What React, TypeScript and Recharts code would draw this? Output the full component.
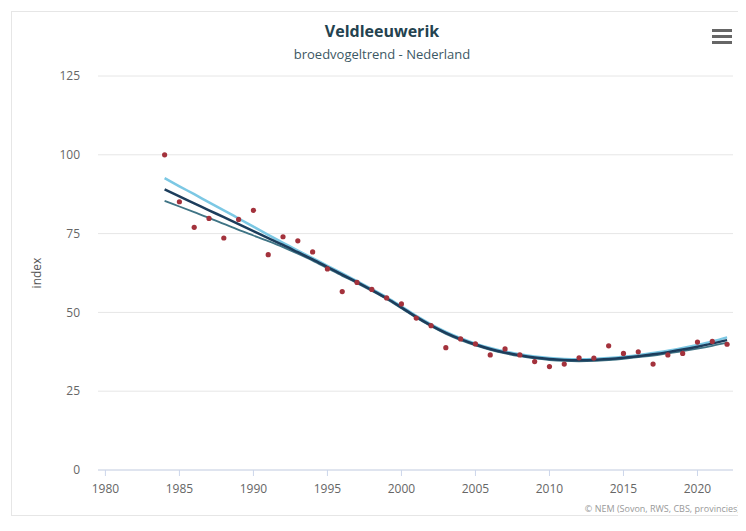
import React from 'react';
import {
  ComposedChart,
  Line,
  Scatter,
  XAxis,
  YAxis,
  CartesianGrid,
  Label,
} from 'recharts';

// Broedvogeltrend veldleeuwerik, index 1984 = 100
const years = [
  1984, 1985, 1986, 1987, 1988, 1989, 1990, 1991, 1992, 1993, 1994, 1995, 1996,
  1997, 1998, 1999, 2000, 2001, 2002, 2003, 2004, 2005, 2006, 2007, 2008, 2009,
  2010, 2011, 2012, 2013, 2014, 2015, 2016, 2017, 2018, 2019, 2020, 2021, 2022,
];

const indexValues = [
  100, 85.1, 77.0, 79.8, 73.6, 79.5, 82.4, 68.3, 74.0, 72.7, 69.2, 63.8, 56.6,
  59.5, 57.3, 54.6, 52.7, 48.2, 45.8, 38.8, 41.6, 40.0, 36.5, 38.4, 36.5, 34.4,
  32.8, 33.6, 35.6, 35.5, 39.4, 37.0, 37.5, 33.6, 36.5, 37.0, 40.6, 40.8, 39.9,
];

const trend = [
  89.0, 86.8, 84.6, 82.4, 80.2, 78.0, 75.8, 73.6, 71.4, 69.1, 66.8, 64.4, 62.0,
  59.6, 57.1, 54.5, 51.6, 48.6, 45.9, 43.5, 41.5, 39.8, 38.4, 37.3, 36.4, 35.7,
  35.2, 34.9, 34.8, 34.9, 35.2, 35.6, 36.1, 36.7, 37.4, 38.2, 39.1, 40.1, 41.2,
];

const trendUpper = [
  92.6, 90.0, 87.5, 84.9, 82.4, 79.8, 77.2, 74.6, 72.1, 69.6, 67.2, 64.8, 62.4,
  59.9, 57.4, 54.8, 51.9, 48.9, 46.2, 43.8, 41.8, 40.1, 38.7, 37.6, 36.7, 36.0,
  35.5, 35.2, 35.1, 35.2, 35.5, 35.9, 36.4, 37.1, 37.8, 38.7, 39.7, 40.8, 42.1,
];

const trendLower = [
  85.4, 83.6, 81.8, 80.0, 78.1, 76.2, 74.4, 72.6, 70.7, 68.6, 66.4, 64.0, 61.6,
  59.3, 56.8, 54.2, 51.3, 48.3, 45.6, 43.2, 41.2, 39.5, 38.1, 37.0, 36.1, 35.4,
  34.9, 34.6, 34.5, 34.6, 34.9, 35.3, 35.8, 36.3, 37.0, 37.7, 38.5, 39.4, 40.4,
];

const xTicks = [1980, 1985, 1990, 1995, 2000, 2005, 2010, 2015, 2020];
const yTicks = [0, 25, 50, 75, 100, 125];

const data = years.map((year, i) => ({
  year,
  index: indexValues[i],
  trend: trend[i],
  upper: trendUpper[i],
  lower: trendLower[i],
}));

const FONT = '"Open Sans", "DejaVu Sans", sans-serif';

export default function App() {
  return (
    <div
      style={{
        position: 'relative',
        marginLeft: 3,
        marginTop: 3,
        width: 734,
        height: 503,
        border: '1px solid #e6e6e6',
        background: '#fff',
        fontFamily: FONT,
      }}
    >
      <div
        style={{
          position: 'absolute',
          top: 8,
          left: 0,
          width: 740,
          textAlign: 'center',
          fontSize: 16,
          fontWeight: 700,
          color: '#24424f',
        }}
      >
        Veldleeuwerik
      </div>
      <div
        style={{
          position: 'absolute',
          top: 33,
          left: 0,
          width: 740,
          textAlign: 'center',
          fontSize: 13,
          color: '#3c5864',
        }}
      >
        broedvogeltrend - Nederland
      </div>
      {/* menu icon */}
      <div style={{ position: 'absolute', top: 17, left: 700 }}>
        {[0, 1, 2].map((i) => (
          <div
            key={i}
            style={{ width: 20, height: 3, background: '#666', marginBottom: 3 }}
          />
        ))}
      </div>
      <ComposedChart
        width={734}
        height={503}
        data={data}
        margin={{ top: 64, right: 13, left: 0, bottom: 0 }}
      >
        <CartesianGrid vertical={false} stroke="#e6e6e6" />
        <XAxis
          dataKey="year"
          type="number"
          domain={[1979.5, 2022.4]}
          ticks={xTicks}
          allowDataOverflow
          height={45}
          stroke="#ccd6eb"
          tickSize={6}
          tickMargin={8}
          tick={{ fill: '#666', fontSize: 12, fontFamily: FONT }}
        />
        <YAxis
          type="number"
          domain={[0, 125]}
          ticks={yTicks}
          width={86}
          axisLine={false}
          tickLine={false}
          tickSize={0}
          tickMargin={18}
          tick={{ fill: '#666', fontSize: 12, fontFamily: FONT }}
        >
          <Label
            content={({ viewBox }: any) => (
              <text
                x={29}
                y={viewBox.y + viewBox.height / 2}
                transform={`rotate(-90, 29, ${viewBox.y + viewBox.height / 2})`}
                textAnchor="middle"
                fill="#555"
                fontSize={12}
                fontFamily={FONT}
              >
                index
              </text>
            )}
          />
        </YAxis>
        <Line
          dataKey="upper"
          type="monotone"
          stroke="#7cc8e4"
          strokeWidth={2.5}
          dot={false}
          isAnimationActive={false}
        />
        <Line
          dataKey="lower"
          type="monotone"
          stroke="#3f7485"
          strokeWidth={1.8}
          dot={false}
          isAnimationActive={false}
        />
        <Line
          dataKey="trend"
          type="monotone"
          stroke="#1c3d5c"
          strokeWidth={2.5}
          dot={false}
          isAnimationActive={false}
        />
        <Scatter
          dataKey="index"
          fill="#a3323c"
          shape={(p: any) => <circle cx={p.cx} cy={p.cy} r={2.6} fill="#a3323c" />}
          isAnimationActive={false}
        />
      </ComposedChart>
      <div
        style={{
          position: 'absolute',
          right: 6,
          top: 490,
          fontSize: 9,
          color: '#999',
        }}
      >
        © NEM (Sovon, RWS, CBS, provincies)
      </div>
    </div>
  );
}
